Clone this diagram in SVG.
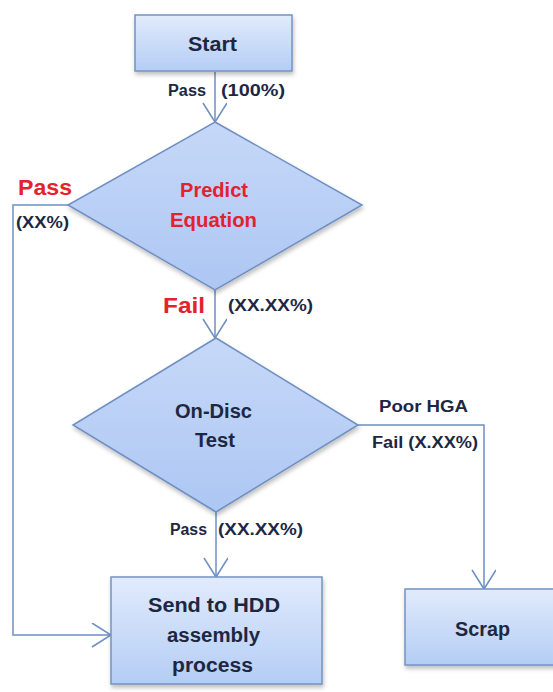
<svg xmlns="http://www.w3.org/2000/svg" width="553" height="692" viewBox="0 0 553 692">
<style>
.box{stroke:#7392c4;stroke-width:1.5}
.dia{fill:url(#gd);stroke:#6f8fc2;stroke-width:1.5}
.con{fill:none;stroke:#6d8fc3;stroke-width:1.5}
text{font-family:"Liberation Sans",Arial,sans-serif;font-weight:bold}
.t{fill:#1e2742}
.r{fill:#e3222e}
.s{font-size:16px}
.n{font-size:20px}
.b{font-size:22px}
</style>
<defs>
<linearGradient id="gb" x1="0" y1="0" x2="0" y2="1">
<stop offset="0" stop-color="#e1ebfc"/><stop offset="1" stop-color="#b4cdf5"/>
</linearGradient>
<linearGradient id="gd" x1="0" y1="0" x2="0" y2="1">
<stop offset="0" stop-color="#c6d8f8"/><stop offset="1" stop-color="#adc7f3"/>
</linearGradient>
<filter id="sh" x="-10%" y="-10%" width="130%" height="130%">
<feDropShadow dx="1" dy="3" stdDeviation="2" flood-color="#000" flood-opacity="0.25"/>
</filter>
<marker id="ar" markerUnits="userSpaceOnUse" markerWidth="30" markerHeight="30" refX="20" refY="12" orient="auto">
<path d="M1,0 L20,12 L1,24" fill="none" stroke="#6d8fc3" stroke-width="1.5"/>
</marker>
</defs>
<g id="connectors">
<path class="con" d="M215,72 L215,122" marker-end="url(#ar)"/>
<path class="con" d="M215,290 L215,338" marker-end="url(#ar)"/>
<path class="con" d="M216,512 L216,577" marker-end="url(#ar)"/>
<path class="con" d="M68,205 L13,205 L13,635 L111,635" marker-end="url(#ar)"/>
<path class="con" d="M358,425 L484,425 L484,589" marker-end="url(#ar)"/>
<text class="t s" x="168" y="96" textLength="38" lengthAdjust="spacingAndGlyphs">Pass</text>
<text class="t s" x="221" y="96" textLength="64" lengthAdjust="spacingAndGlyphs">(100%)</text>
<text class="r b" x="18" y="195" textLength="54" lengthAdjust="spacingAndGlyphs">Pass</text>
<text class="t s" x="16" y="228" textLength="53" lengthAdjust="spacingAndGlyphs">(XX%)</text>
<text class="r b" x="163" y="313" textLength="42" lengthAdjust="spacingAndGlyphs">Fail</text>
<text class="t s" x="228" y="311" textLength="85" lengthAdjust="spacingAndGlyphs">(XX.XX%)</text>
<text class="t s" x="379" y="412" textLength="89" lengthAdjust="spacingAndGlyphs">Poor HGA</text>
<text class="t s" x="372" y="448" textLength="106" lengthAdjust="spacingAndGlyphs">Fail (X.XX%)</text>
<text class="t s" x="170" y="535" textLength="37" lengthAdjust="spacingAndGlyphs">Pass</text>
<text class="t s" x="218" y="535" textLength="85" lengthAdjust="spacingAndGlyphs">(XX.XX%)</text>
</g>
<g id="start">
<rect class="box" x="135" y="15" width="157" height="56" fill="url(#gb)" filter="url(#sh)"/>
<text class="t n" x="188" y="51" textLength="49" lengthAdjust="spacingAndGlyphs">Start</text>
</g>
<g id="predict">
<polygon class="dia" points="215,122 362,205 215,290 68,205" filter="url(#sh)"/>
<text class="r n" x="180" y="197" textLength="68" lengthAdjust="spacingAndGlyphs">Predict</text>
<text class="r n" x="170" y="227" textLength="87" lengthAdjust="spacingAndGlyphs">Equation</text>
</g>
<g id="ondisc">
<polygon class="dia" points="216,338 358,425 216,512 73,425" filter="url(#sh)"/>
<text class="t n" x="175" y="418" textLength="77" lengthAdjust="spacingAndGlyphs">On-Disc</text>
<text class="t n" x="195" y="447" textLength="40" lengthAdjust="spacingAndGlyphs">Test</text>
</g>
<g id="send">
<rect class="box" x="111" y="577" width="211" height="107" fill="url(#gb)" filter="url(#sh)"/>
<text class="t n" x="148" y="612" textLength="132" lengthAdjust="spacingAndGlyphs">Send to HDD</text>
<text class="t n" x="167" y="642" textLength="93" lengthAdjust="spacingAndGlyphs">assembly</text>
<text class="t n" x="172" y="672" textLength="81" lengthAdjust="spacingAndGlyphs">process</text>
</g>
<g id="scrap">
<rect class="box" x="405" y="589" width="160" height="76" fill="url(#gb)" filter="url(#sh)"/>
<text class="t n" x="455" y="636" textLength="55" lengthAdjust="spacingAndGlyphs">Scrap</text>
</g>
</svg>
